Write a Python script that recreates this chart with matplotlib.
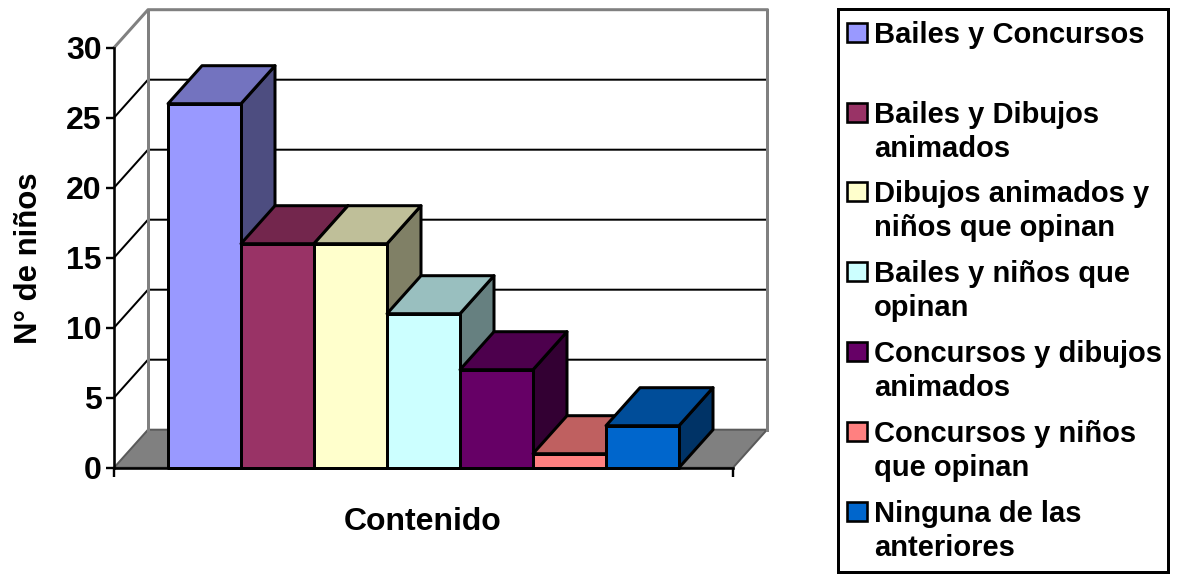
import matplotlib
matplotlib.use("Agg")
import matplotlib.pyplot as plt
from matplotlib.colors import to_rgb
from matplotlib.patches import Polygon, Rectangle

categories = ["Bailes y Concursos", "Bailes y Dibujos\nanimados",
              "Dibujos animados y\nniños que opinan", "Bailes y niños que\nopinan",
              "Concursos y dibujos\nanimados", "Concursos y niños\nque opinan",
              "Ninguna de las\nanteriores"]
values = [26, 16, 16, 11, 7, 1, 3]
colors = ["#9999FF", "#993366", "#FFFFCC", "#CCFFFF", "#660066", "#FF8080", "#0066CC"]
y_ticks = [0, 5, 10, 15, 20, 25, 30]
legend_rows = [33, 113, 192, 272, 352, 432, 512]

W, H = 1177, 581
plt.rcParams["font.family"] = ["Liberation Sans", "DejaVu Sans"]
plt.rcParams["font.weight"] = "bold"
fig = plt.figure(figsize=(W / 100, H / 100), dpi=100)
L, R, T, B = 114, 733, 47.7, 467.7
ax = fig.add_axes([L / W, 1 - B / H, (R - L) / W, (B - T) / H])
bw = 73.0
x0 = -(168 - L) / bw
x1 = (R - 168) / bw
ax.set_xlim(x0, x1)
ax.set_ylim(0, 30)
dx = 34 / bw
dy = 38 / 14.0
px = 0.72
GRAY = "#808080"


def poly(pts, fc, ec="black", lw=3 * px, z=3):
    ax.add_patch(Polygon(pts, closed=True, facecolor=fc, edgecolor=ec, linewidth=lw,
                         zorder=z, clip_on=False, joinstyle="round"))


def shade(c, f):
    return tuple(v * f for v in to_rgb(c))


# floor
poly([(x0, 0), (x1, 0), (x1 + dx, dy), (x0 + dx, dy)], GRAY, "#5a5a5a", 2 * px, 1)
# grid on side and back walls
for v in y_ticks[1:]:
    col = GRAY if v == 30 else "black"
    lw = 3 * px if v == 30 else 2 * px
    ax.plot([x0, x0 + dx, x1 + dx], [v, v + dy, v + dy], color=col, lw=lw, zorder=1.5,
            clip_on=False, solid_joinstyle="round")
# wall edges
ax.plot([x0 + dx, x0 + dx], [dy, 30 + dy], color=GRAY, lw=3 * px, zorder=2, clip_on=False)
ax.plot([x1 + dx, x1 + dx], [dy, 30 + dy], color=GRAY, lw=3 * px, zorder=2, clip_on=False)
# bars
for i, (v, c) in enumerate(zip(values, colors)):
    z = 3 + i * 0.1
    poly([(i + 1, 0), (i + 1 + dx, dy), (i + 1 + dx, v + dy), (i + 1, v)], shade(c, 0.5), z=z)
    poly([(i, v), (i + 1, v), (i + 1 + dx, v + dy), (i + dx, v + dy)], shade(c, 0.75), z=z)
    poly([(i, 0), (i + 1, 0), (i + 1, v), (i, v)], c, z=z + 0.01)

# axes
for s in ("top", "right"):
    ax.spines[s].set_visible(False)
ax.patch.set_alpha(0)
for s in ("left", "bottom"):
    ax.spines[s].set_linewidth(2.6 * px)
    ax.spines[s].set_zorder(6)
ax.set_yticks(y_ticks)
ax.set_xticks([x0, x1])
ax.set_xticklabels([])
ax.tick_params(axis="y", length=8 * px, width=2.4 * px, labelsize=23, pad=3)
ax.tick_params(axis="x", length=9 * px, width=2.4 * px)
fig.text(29 / W, 1 - 258 / H, "N° de niños", rotation=90, ha="center", va="center", fontsize=22.4)
fig.text(423 / W, 1 - 522.5 / H, "Contenido", ha="center", va="center", fontsize=23)

# legend
lg = fig.add_axes([0, 0, 1, 1])
lg.set_xlim(0, W)
lg.set_ylim(H, 0)
lg.axis("off")
lg.add_patch(Rectangle((838, 9), 330, 563, facecolor="white", edgecolor="black", linewidth=3 * px))
for name, c, y in zip(categories, colors, legend_rows):
    lg.add_patch(Rectangle((847, y - 10), 20, 19, facecolor=c, edgecolor="black", linewidth=2.6 * px))
    lg.text(874, y - 12, name, ha="left", va="top", fontsize=21, linespacing=1.29)

fig.savefig("out.png", dpi=100)
